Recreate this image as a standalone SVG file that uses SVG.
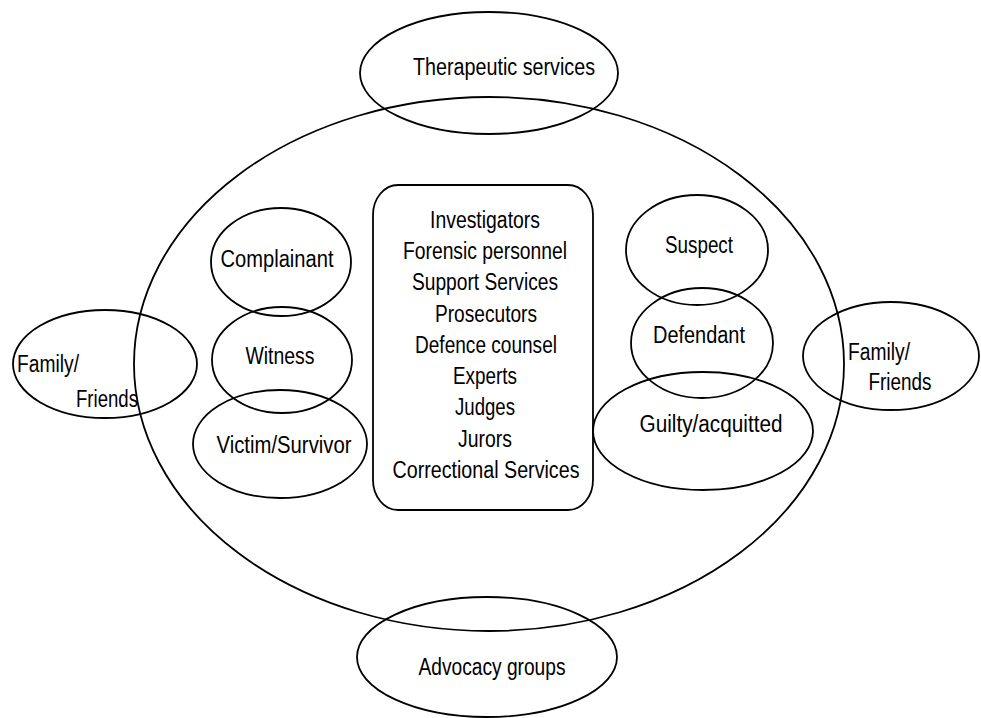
<svg xmlns="http://www.w3.org/2000/svg" width="981" height="718" viewBox="0 0 981 718">
<style>
.s{fill:none;stroke:#000;stroke-width:1.8}
text{font-family:"Liberation Sans",Arial,sans-serif;font-size:23px;fill:#000;text-anchor:middle}
</style>
<rect x="0" y="0" width="981" height="718" fill="#fff"/>
<g id="system"><ellipse class="s" cx="489" cy="364" rx="355" ry="267"/></g>
<g id="therapeutic"><ellipse class="s" cx="489" cy="73" rx="129" ry="61"/><text x="504" y="75" textLength="182" lengthAdjust="spacingAndGlyphs">Therapeutic services</text></g>
<g id="advocacy"><ellipse class="s" cx="487" cy="657" rx="130" ry="60"/><text x="492" y="675" textLength="147" lengthAdjust="spacingAndGlyphs">Advocacy groups</text></g>
<g id="family-left"><ellipse class="s" cx="105" cy="364" rx="92" ry="54"/><text x="48" y="372" textLength="62" lengthAdjust="spacingAndGlyphs">Family/</text><text x="107" y="407" textLength="62" lengthAdjust="spacingAndGlyphs">Friends</text></g>
<g id="family-right"><ellipse class="s" cx="891" cy="356" rx="88" ry="54"/><text x="879" y="360" textLength="62" lengthAdjust="spacingAndGlyphs">Family/</text><text x="900" y="390" textLength="63" lengthAdjust="spacingAndGlyphs">Friends</text></g>
<g id="complainant"><ellipse class="s" cx="281" cy="262" rx="70" ry="54"/><text x="277" y="267" textLength="113" lengthAdjust="spacingAndGlyphs">Complainant</text></g>
<g id="witness"><ellipse class="s" cx="282" cy="360" rx="70" ry="53"/><text x="280" y="364" textLength="69" lengthAdjust="spacingAndGlyphs">Witness</text></g>
<g id="victim"><ellipse class="s" cx="280" cy="444" rx="87" ry="54"/><text x="284" y="453" textLength="135" lengthAdjust="spacingAndGlyphs">Victim/Survivor</text></g>
<g id="actors"><rect class="s" x="373" y="185" width="220" height="325" rx="25" ry="30"/>
<text x="485" y="228" textLength="110" lengthAdjust="spacingAndGlyphs">Investigators</text>
<text x="485" y="259" textLength="164" lengthAdjust="spacingAndGlyphs">Forensic personnel</text>
<text x="485" y="290" textLength="146" lengthAdjust="spacingAndGlyphs">Support Services</text>
<text x="486" y="322" textLength="102" lengthAdjust="spacingAndGlyphs">Prosecutors</text>
<text x="486" y="353" textLength="142" lengthAdjust="spacingAndGlyphs">Defence counsel</text>
<text x="485" y="384" textLength="64" lengthAdjust="spacingAndGlyphs">Experts</text>
<text x="485" y="415" textLength="60" lengthAdjust="spacingAndGlyphs">Judges</text>
<text x="485" y="447" textLength="54" lengthAdjust="spacingAndGlyphs">Jurors</text>
<text x="486" y="478" textLength="187" lengthAdjust="spacingAndGlyphs">Correctional Services</text>
</g>
<g id="suspect"><ellipse class="s" cx="697" cy="250" rx="71" ry="55"/><text x="699" y="253" textLength="68" lengthAdjust="spacingAndGlyphs">Suspect</text></g>
<g id="defendant"><ellipse class="s" cx="702" cy="343" rx="71" ry="55"/><text x="699" y="343" textLength="92" lengthAdjust="spacingAndGlyphs">Defendant</text></g>
<g id="guilty"><ellipse class="s" cx="703" cy="431" rx="110" ry="59"/><text x="711" y="432" textLength="143" lengthAdjust="spacingAndGlyphs">Guilty/acquitted</text></g>
</svg>
